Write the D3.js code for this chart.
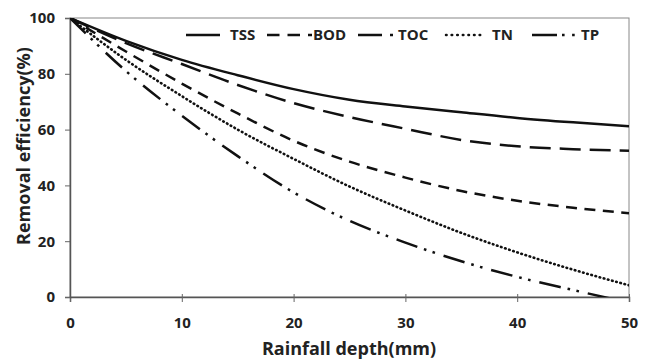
<!DOCTYPE html>
<html>
<head>
<meta charset="utf-8">
<script src="https://cdn.jsdelivr.net/npm/d3@7"></script>
<style>
  body { margin: 0; background: #fff; }
  svg { display: block; }
  text { font-family: "Open Sans", "Noto Sans", sans-serif; font-weight: bold; fill: #222; }
</style>
</head>
<body>
<svg id="chart" width="648" height="361"></svg>
<script>
// rainfall depth (mm)
const depth = [0, 5, 10, 15, 20, 25, 30, 35, 40, 45, 50];
// removal efficiency (%)
const tss = [100, 91.8, 85, 79.5, 74.5, 70.7, 68.3, 66.2, 64.2, 62.6, 61.2];
const bod = [100, 91, 83.5, 76, 69.5, 64.5, 60.3, 56.3, 54, 53, 52.4];
const toc = [100, 88, 76.5, 65.8, 56, 48.5, 42.8, 38, 34.5, 32, 30];
const tn  = [100, 85, 72, 60, 49.5, 39.6, 31, 23, 16, 9.8, 4.2];
const tp  = [100, 81, 65, 50.5, 37.5, 27.3, 19.5, 12.8, 7.2, 2.5, -2];
const names = ["TSS", "BOD", "TOC", "TN", "TP"];
const xTicks = [0, 10, 20, 30, 40, 50];
const yTicks = [0, 20, 40, 60, 80, 100];

const series = [tss, bod, toc, tn, tp].map((vals, i) => ({
    name: names[i],
    values: vals.map((v, j) => ({ x: depth[j], y: v }))
}));

const dash = {
    TSS: null,
    BOD: "21,9",
    TOC: "11,7.5",
    TN: "0.6,3.7",
    TP: "22,7,2.6,6.5,2.6,9"
};
const legendDash = {
    TSS: null,
    BOD: "12.5,8",
    TOC: "24,8,3,8",
    TN: "0.6,5",
    TP: "25,5,2.6,7.5,2.6,8"
};

const svg = d3.select("#chart");
const mLeft = 70, mRight = 629, mTop = 18, mBottom = 297;

const x = d3.scaleLinear().domain([0, 50]).range([mLeft, mRight]);
const y = d3.scaleLinear().domain([0, 100]).range([mBottom, mTop]);

svg.append("defs").append("clipPath").attr("id", "clip")
    .append("rect")
    .attr("x", mLeft).attr("y", mTop)
    .attr("width", mRight - mLeft).attr("height", mBottom - mTop);

// frame
svg.append("rect")
    .attr("x", mLeft).attr("y", mTop)
    .attr("width", mRight - mLeft).attr("height", mBottom - mTop)
    .attr("fill", "none")
    .attr("stroke", "#888")
    .attr("stroke-width", 1);

// axes
const xAxis = svg.append("g")
    .attr("transform", `translate(0,${mBottom})`)
    .call(d3.axisBottom(x).tickValues(xTicks).tickSize(5).tickPadding(15));
const yAxis = svg.append("g")
    .attr("transform", `translate(${mLeft},0)`)
    .call(d3.axisLeft(y).tickValues(yTicks).tickSize(5).tickPadding(10));

[xAxis, yAxis].forEach(g => {
    g.select(".domain").attr("stroke", "#555").attr("stroke-width", 1.5);
    g.selectAll(".tick line").attr("stroke", "#666").attr("stroke-width", 1);
    g.selectAll(".tick text")
        .attr("font-size", 15)
        .attr("font-family", "\"Open Sans\", sans-serif")
        .attr("font-weight", "bold")
        .attr("fill", "#222");
});
xAxis.selectAll(".tick line").attr("y1", -3);

const line = d3.line()
    .x(d => x(d.x))
    .y(d => y(d.y))
    .curve(d3.curveMonotoneX);

svg.append("g")
    .attr("clip-path", "url(#clip)")
    .selectAll("path")
    .data(series)
    .join("path")
    .attr("d", d => line(d.values))
    .attr("fill", "none")
    .attr("stroke", "#111")
    .attr("stroke-width", d => d.name === "TN" ? 2.6 : 2.5)
    .attr("stroke-linecap", d => d.name === "TN" ? "round" : "butt")
    .attr("stroke-dasharray", d => dash[d.name]);

// legend
const legendPos = [
    { x1: 186, x2: 220, tx: 230 },
    { x1: 267, x2: 312, tx: 313 },
    { x1: 358, x2: 393, tx: 398 },
    { x1: 446, x2: 482, tx: 492 },
    { x1: 532, x2: 575, tx: 581 }
];
const legend = svg.append("g")
    .selectAll("g")
    .data(series)
    .join("g");
legend.append("line")
    .attr("x1", (d, i) => legendPos[i].x1)
    .attr("x2", (d, i) => legendPos[i].x2)
    .attr("y1", 35).attr("y2", 35)
    .attr("stroke", "#111")
    .attr("stroke-width", 2.5)
    .attr("stroke-linecap", d => d.name === "TN" ? "round" : "butt")
    .attr("stroke-dasharray", d => legendDash[d.name]);
legend.append("text")
    .attr("x", (d, i) => legendPos[i].tx)
    .attr("y", 40)
    .attr("font-size", 15)
    .text(d => d.name);

// axis titles
svg.append("text")
    .attr("x", 349)
    .attr("y", 355)
    .attr("text-anchor", "middle")
    .attr("font-size", 18)
    .text("Rainfall depth(mm)");

svg.append("text")
    .attr("transform", "translate(30,146) rotate(-90)")
    .attr("text-anchor", "middle")
    .attr("font-size", 18)
    .text("Removal efficiency(%)");
</script>
</body>
</html>
